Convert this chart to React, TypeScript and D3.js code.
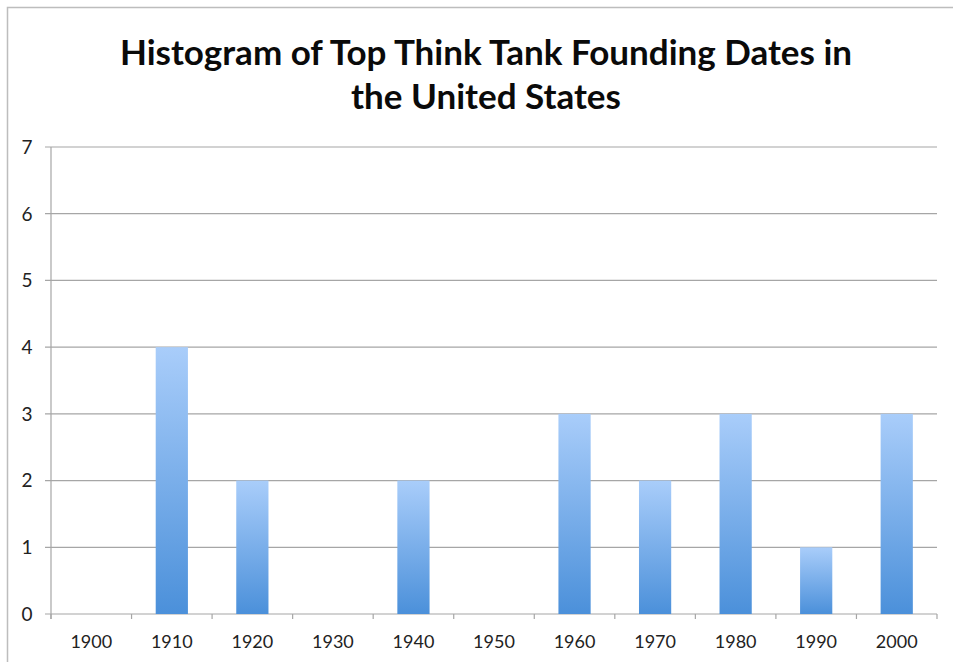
import React from "react";
import * as d3 from "d3";

const decades = ["1900", "1910", "1920", "1930", "1940", "1950", "1960", "1970", "1980", "1990", "2000"];
const counts = [0, 4, 2, 0, 2, 0, 3, 2, 3, 1, 3];
const yTicks = [0, 1, 2, 3, 4, 5, 6, 7];
const titleLines = ["Histogram of Top Think Tank Founding Dates in", "the United States"];

const W = 953;
const H = 662;
const plot = { left: 51, right: 937, top: 147, bottom: 614 };
const FONT = "Lato, 'Open Sans', sans-serif";

export default function App() {
  const x = d3
    .scaleBand<string>()
    .domain(decades)
    .range([plot.left, plot.right])
    .paddingInner(0)
    .paddingOuter(0);
  const y = d3.scaleLinear().domain([0, 7]).range([plot.bottom, plot.top]);
  const barW = x.bandwidth() * 0.4;
  const boundaries = d3.range(decades.length + 1).map((i) => plot.left + i * x.step());

  return (
    <svg
      width={W}
      height={H}
      style={{ position: "absolute", left: 0, top: 0, background: "#fff" }}
    >
      <defs>
        <linearGradient id="barFill" x1="0" y1="0" x2="0" y2="1">
          <stop offset="0%" stopColor="#A9CDFA" />
          <stop offset="100%" stopColor="#4B90DA" />
        </linearGradient>
      </defs>
      <rect x={0} y={0} width={W} height={H} fill="#fff" />
      {/* outer chart frame */}
      <rect x={7.5} y={7.5} width={W + 20} height={H + 20} fill="none" stroke="#BDBDBD" strokeWidth={1.5} />

      {titleLines.map((t, i) => (
        <text
          key={t}
          x={486}
          y={65 + i * 44}
          textAnchor="middle"
          fontFamily={FONT}
          fontWeight={700}
          fontSize={35}
          fill="#0a0a0a"
        >
          {t}
        </text>
      ))}

      {/* horizontal gridlines and y ticks */}
      {yTicks.map((v) => (
        <g key={v}>
          <line x1={plot.left - 6} x2={plot.right} y1={y(v)} y2={y(v)} stroke="#A6A6A6" strokeWidth={1.2} />
          <text
            x={27}
            y={y(v)}
            dy="0.36em"
            textAnchor="middle"
            fontFamily={FONT}
            fontSize={19}
            fill="#222"
          >
            {v}
          </text>
        </g>
      ))}

      {/* y axis line */}
      <line x1={plot.left} x2={plot.left} y1={plot.top} y2={plot.bottom + 5} stroke="#A6A6A6" strokeWidth={1.2} />

      {/* x ticks at bin boundaries */}
      {boundaries.map((bx, i) => (
        <line key={i} x1={bx} x2={bx} y1={plot.bottom} y2={plot.bottom + 5} stroke="#A6A6A6" strokeWidth={1.2} />
      ))}

      {/* bars */}
      {decades.map((d, i) =>
        counts[i] > 0 ? (
          <rect
            key={d}
            x={(x(d) as number) + (x.bandwidth() - barW) / 2}
            y={y(counts[i])}
            width={barW}
            height={y(0) - y(counts[i])}
            fill="url(#barFill)"
          />
        ) : null
      )}

      {/* x labels */}
      {decades.map((d) => (
        <text
          key={d}
          x={(x(d) as number) + x.bandwidth() / 2}
          y={648}
          textAnchor="middle"
          fontFamily={FONT}
          fontSize={18}
          fill="#222"
        >
          {d}
        </text>
      ))}
    </svg>
  );
}
